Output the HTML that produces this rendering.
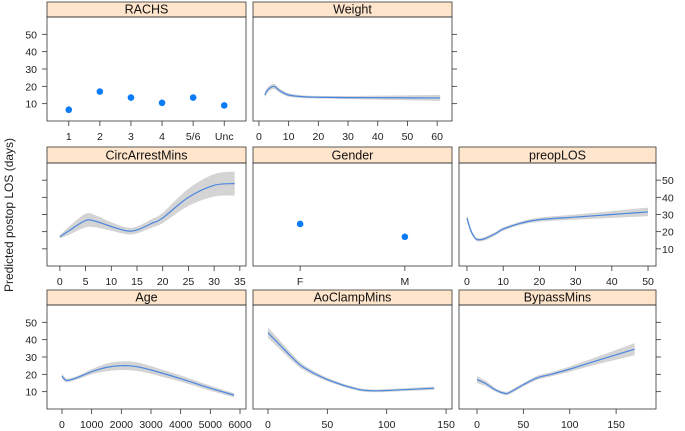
<!DOCTYPE html>
<html><head><meta charset="utf-8"><style>
body{margin:0;background:#fff;}
svg{display:block;font-family:"Liberation Sans",sans-serif;}
</style></head><body>
<svg id="chart" width="685" height="431"></svg>
<script>
const NS="http://www.w3.org/2000/svg";
const yTicks=[10,20,30,40,50];
const rachsCats=["1","2","3","4","5/6","Unc"];
const rachsVals=[6.5,17,13.5,10.5,13.5,9];
const genderCats=["F","M"];
const genderVals=[24.5,17];
const weightX=[2,3,5,7,10,15,20,30,45,61];
const weightY=[15,18,20,17.5,15,14,13.7,13.5,13.4,13.3];
const weightSE=[1.5,1.5,1.5,1.2,1,0.8,0.8,0.9,1.3,1.8];
const circX=[0,2,5,7,10,13,15,18,20,25,30,34];
const circY=[17,21,26.5,26,23,20.5,21,25,28,40,47,48];
const circSE=[1,2.5,4,3.5,2.5,2,2,2.5,3,5,6.5,7];
const preopX=[0,1,2,3,5,8,10,15,20,30,40,50];
const preopY=[28,21,17,15.3,16,19,21.5,25,27,28.5,30,31.5];
const preopSE=[2,1.5,1,1,1,1,1,1,1.2,1.5,2,2.5];
const ageX=[0,100,200,500,1000,1500,2000,2500,3000,4000,5000,5800];
const ageY=[19,17,16.5,18,21.5,24,25,24.5,22.5,17.5,12,8];
const ageSE=[1.5,1.2,1,1,1.5,2.2,2.5,2.5,2.2,1.8,1.5,1.2];
const aoX=[0,10,20,30,50,75,90,110,140];
const aoY=[44,37,30,24,17,11.5,10.5,11,12];
const aoSE=[3,2.5,2,1.5,1,0.8,0.8,0.8,1];
const byX=[0,10,20,30,35,50,65,80,100,130,170];
const byY=[17,14.5,11,9,9.5,14,18,20,23,28,34.5];
const bySE=[2,1.5,1,1,1,1,1.2,1.2,1.5,2.2,3.5];

const cols=[[47,246],[253,452],[459,656]];
const rows=[[2,17,121],[147,163,266],[290,305,409]];
const panels=[
 {name:"RACHS",r:0,c:0,dom:[0.3,6.7],cats:rachsCats,vals:rachsVals,xt:[1,2,3,4,5,6],xl:rachsCats},
 {name:"Weight",r:0,c:1,dom:[-2,65],x:weightX,y:weightY,se:weightSE,xt:[0,10,20,30,40,50,60]},
 {name:"CircArrestMins",r:1,c:0,dom:[-2.5,36.2],x:circX,y:circY,se:circSE,xt:[0,5,10,15,20,25,30,35]},
 {name:"Gender",r:1,c:1,dom:[0.55,2.45],cats:genderCats,vals:genderVals,xt:[1,2],xl:genderCats},
 {name:"preopLOS",r:1,c:2,dom:[-2.2,52.2],x:preopX,y:preopY,se:preopSE,xt:[0,10,20,30,40,50]},
 {name:"Age",r:2,c:0,dom:[-505,6202],x:ageX,y:ageY,se:ageSE,xt:[0,1000,2000,3000,4000,5000,6000]},
 {name:"AoClampMins",r:2,c:1,dom:[-12.6,155],x:aoX,y:aoY,se:aoSE,xt:[0,50,100,150]},
 {name:"BypassMins",r:2,c:2,dom:[-19.4,193],x:byX,y:byY,se:bySE,xt:[0,50,100,150]}
];
const svg=document.getElementById("chart");
function el(t,a,p){const e=document.createElementNS(NS,t);for(const k in a)e.setAttribute(k,a[k]);(p||svg).appendChild(e);return e;}
function smooth(pts){ // catmull-rom
 let d="M"+pts[0][0]+","+pts[0][1];
 for(let i=0;i<pts.length-1;i++){const p0=pts[i-1]||pts[i],p1=pts[i],p2=pts[i+1],p3=pts[i+2]||p2;
  d+=" C"+(p1[0]+(p2[0]-p0[0])/6)+","+(p1[1]+(p2[1]-p0[1])/6)+" "+(p2[0]-(p3[0]-p1[0])/6)+","+(p2[1]-(p3[1]-p1[1])/6)+" "+p2[0]+","+p2[1];}
 return d;}
const rightmost={0:1,1:2,2:2};
panels.forEach(P=>{
 const [x0,x1]=cols[P.c];const [st,pt,pb]=rows[P.r];
 const g=el("g",{});
 
 
 const sx=v=>x0+(v-P.dom[0])/(P.dom[1]-P.dom[0])*(x1-x0);
 const sy=v=>pb-(v/60)*(pb-pt);
 const strip=el("rect",{x:x0,y:st,width:x1-x0,height:pt-st,fill:"#ffe5cc",stroke:"#333","stroke-width":0.8},g);
 
 
 const tt=el("text",{x:(x0+x1)/2,y:pt-3.5,"text-anchor":"middle","font-size":12.5,fill:"#111"},g);tt.textContent=P.name;
 
 
 if(P.x){
  const up=P.x.map((v,i)=>[sx(v),sy(P.y[i]+P.se[i])]);
  const lo=P.x.map((v,i)=>[sx(v),sy(P.y[i]-P.se[i])]).reverse();
  let d=smooth(up)+" L"+lo[0][0]+","+lo[0][1]+smooth(lo).replace(/^M[^ ]+/,"")+"Z";
  const band=el("path",{d:d,fill:"#d4d4d4",stroke:"none"},g);
  
  
  const ln=el("path",{d:smooth(P.x.map((v,i)=>[sx(v),sy(P.y[i])])),fill:"none",stroke:"#4a86e0","stroke-width":1.2},g);
  
  
 } else {
  P.vals.forEach((v,i)=>{const c=el("circle",{cx:sx(i+1),cy:sy(v),r:3.3,fill:"#0a7cf5"},g);
   
   });
 }
 el("rect",{x:x0,y:pt,width:x1-x0,height:pb-pt,fill:"none",stroke:"#333","stroke-width":0.8},g);
 P.xt.forEach((v,i)=>{const X=sx(v);el("line",{x1:X,x2:X,y1:pb,y2:pb+5,stroke:"#333","stroke-width":0.8},g);
  const t=el("text",{x:X,y:pb+19,"text-anchor":"middle","font-size":10.5,fill:"#222"},g);t.textContent=P.xl?P.xl[i]:v;
  
  });
 if(P.c===0){yTicks.forEach(v=>{const Y=sy(v);el("line",{x1:x0-5,x2:x0,y1:Y,y2:Y,stroke:"#333","stroke-width":0.8},g);
  if(P.r!==1){const t=el("text",{x:x0-10,y:Y+4,"text-anchor":"end","font-size":10.5,fill:"#222"},g);t.textContent=v;
   
   }});}
 if(rightmost[P.r]===P.c){yTicks.forEach(v=>{const Y=sy(v);el("line",{x1:x1,x2:x1+5,y1:Y,y2:Y,stroke:"#333","stroke-width":0.8},g);
  if(P.r===1){const t=el("text",{x:x1+6,y:Y+4,"text-anchor":"start","font-size":10.5,fill:"#222"},g);t.textContent=v;
   
   }});}
});
const yl=el("text",{x:13,y:215,"text-anchor":"middle","font-size":12,fill:"#222",transform:"rotate(-90 13 215)"});
yl.textContent="Predicted postop LOS (days)";


</script>
</body></html>
